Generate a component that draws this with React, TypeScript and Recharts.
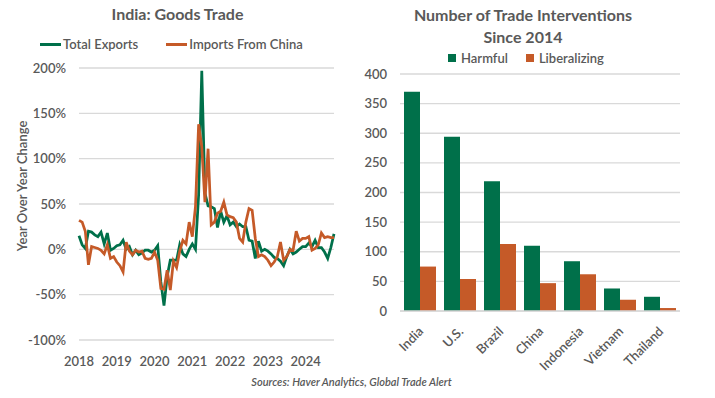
import React from 'react';
import { LineChart, Line, BarChart, Bar, XAxis, YAxis, CartesianGrid } from 'recharts';

// Monthly YoY % change, Jan 2018 .. Oct 2024
const exportsYoY = [
  15, 5, 1, 20, 19, 16, 14, 19, 6, 18, -1, 1,
  4, 5, 10, 0, 3, -6, -1, -6, -4, -1, -1, -3,
  -1, 4, -36, -62, -30, -12, -12, -12, 5, -5, -8, 0,
  6, 0, 60, 197, 62, 48, 47, 45, 24, 42, 30, 37,
  27, 30, 25, 28, 25, 25, 10, 9, -10, 9, -2, 0,
  -2, -5, -9, -10, -13, -18, -8, 0, -5, -3, 0, 3,
  3, 7, 3, 10, 2, 2, -3, -10, 2, 17,
];
const importsChinaYoY = [
  32, 30, 20, -17, 3, 2, 1, -1, -5, 5, -10, -8,
  -14, -18, -25, 8, -2, -6, -1, -3, -2, -10, -11, -10,
  -3, -12, -43, -44, -23, -45, -13, -20, -2, 10, 6, 30,
  14, 47, 138, 113, 52, 111, 27, 30, 40, 42, 52, 38,
  36, 35, 30, 12, 8, 30, 45, 43, 12, -8, -6, -8,
  -12, -18, -14, -8, 8, -12, -8, 0, -1, 20, 9, 12,
  12, 14, -1, 1, 5, 18, 13, 14, 13, 13,
];
const yearLabels = ['2018', '2019', '2020', '2021', '2022', '2023', '2024'];
const pctTicks = [-100, -50, 0, 50, 100, 150, 200];

const countries = ['India', 'U.S.', 'Brazil', 'China', 'Indonesia', 'Vietnam', 'Thailand'];
const harmful = [370, 294, 219, 110, 84, 38, 24];
const liberalizing = [75, 54, 113, 47, 62, 19, 5];
const countTicks = [0, 50, 100, 150, 200, 250, 300, 350, 400];

const GREEN = '#00704A';
const ORANGE = '#C55A28';
const GRAY = '#595959';
const GRID = '#d9d9d9';
const FONT = 'Lato, "Open Sans", sans-serif';

const lineData = exportsYoY.map((v, i) => ({ m: i, exp: v, imp: importsChinaYoY[i] }));
const barData = countries.map((c, i) => ({ c, harmful: harmful[i], lib: liberalizing[i] }));

const CatTick = (props: any) => {
  const { x, y, payload } = props;
  return (
    <g transform={`translate(${x + 1},${y})`}>
      <text x={0} y={0} dy="0.35em" textAnchor="end" transform="rotate(-45)" fill={GRAY} fontSize={13} fontWeight={600} fontFamily={FONT}>
        {payload.value}
      </text>
    </g>
  );
};

const abs = (left: number, top: number, extra: React.CSSProperties = {}): React.CSSProperties => ({
  position: 'absolute', left, top, ...extra,
});

export default function App() {
  const tickStyle = { fill: GRAY, fontSize: 13, fontWeight: 600, fontFamily: FONT };
  return (
    <div style={{ position: 'absolute', left: 0, top: 0, width: 715, height: 398, background: '#fff', fontFamily: FONT, color: GRAY, overflow: 'hidden' }}>
      {/* Left chart */}
      <div style={abs(0, 0)}>
        <LineChart width={355} height={398} data={lineData} margin={{ top: 68, right: 21, bottom: 28, left: 0 }}>
          <CartesianGrid vertical={false} stroke={GRID} strokeWidth={1.3} />
          <XAxis
            type="number"
            dataKey="m"
            domain={[0, 81]}
            ticks={[0, 12, 24, 36, 48, 60, 72]}
            tickFormatter={(v: number) => yearLabels[v / 12]}
            axisLine={false}
            tickLine={false}
            tick={tickStyle}
            tickMargin={11}
            height={30}
          />
          <YAxis
            domain={[-100, 200]}
            ticks={pctTicks}
            tickFormatter={(v: number) => `${v}%`}
            axisLine={false}
            tickLine={false}
            tick={tickStyle}
            tickMargin={7}
            width={79}
            allowDataOverflow
          />
          <Line type="linear" dataKey="exp" stroke={GREEN} strokeWidth={2.75} dot={false} isAnimationActive={false} />
          <Line type="linear" dataKey="imp" stroke={ORANGE} strokeWidth={2.75} dot={false} isAnimationActive={false} />
        </LineChart>
      </div>

      {/* Right chart */}
      <div style={abs(355, 0)}>
        <BarChart width={360} height={398} data={barData} margin={{ top: 74, right: 35, bottom: 27, left: 0 }} barCategoryGap="10%" barGap={0}>
          <CartesianGrid vertical={false} stroke={GRID} strokeWidth={1.3} />
          <XAxis dataKey="c" axisLine={{ stroke: GRID, strokeWidth: 1.3 }} tickLine={false} tick={<CatTick />} tickMargin={12} height={60} interval={0} />
          <YAxis domain={[0, 400]} ticks={countTicks} axisLine={false} tickLine={false} tick={tickStyle} tickMargin={7} width={45} />
          <Bar dataKey="harmful" fill={GREEN} isAnimationActive={false} />
          <Bar dataKey="lib" fill={ORANGE} isAnimationActive={false} />
        </BarChart>
      </div>

      {/* Titles */}
      <div style={abs(0, 4, { width: 355, textAlign: 'center', fontSize: 16, fontWeight: 700 })}>India: Goods Trade</div>
      <div style={abs(355, 4, { width: 336, textAlign: 'center', fontSize: 16, fontWeight: 700, lineHeight: '22px' })}>
        Number of Trade Interventions<br />Since 2014
      </div>

      {/* Left legend */}
      <div style={abs(40, 36, { display: 'flex', alignItems: 'center', fontSize: 13, fontWeight: 600, whiteSpace: 'nowrap' })}>
        <span style={{ display: 'inline-block', width: 21, height: 3, background: GREEN, marginRight: 2 }} />
        <span>Total Exports</span>
        <span style={{ display: 'inline-block', width: 21, height: 3, background: ORANGE, marginLeft: 28, marginRight: 2 }} />
        <span>Imports From China</span>
      </div>

      {/* Right legend */}
      <div style={abs(448, 50, { display: 'flex', alignItems: 'center', fontSize: 13, fontWeight: 600, whiteSpace: 'nowrap' })}>
        <span style={{ display: 'inline-block', width: 8, height: 8, background: GREEN, marginRight: 5 }} />
        <span>Harmful</span>
        <span style={{ display: 'inline-block', width: 8, height: 8, background: ORANGE, marginLeft: 18, marginRight: 5 }} />
        <span>Liberalizing</span>
      </div>

      {/* Y axis title */}
      <div style={abs(22, 186, { transform: 'translate(-50%, -50%) rotate(-90deg)', fontSize: 13, fontWeight: 600, whiteSpace: 'nowrap' })}>
        Year Over Year Change
      </div>

      {/* Source */}
      <div style={abs(0, 375, { width: 703, textAlign: 'center', fontSize: 11, fontStyle: 'italic', fontWeight: 600 })}>
        Sources: Haver Analytics, Global Trade Alert
      </div>
    </div>
  );
}
